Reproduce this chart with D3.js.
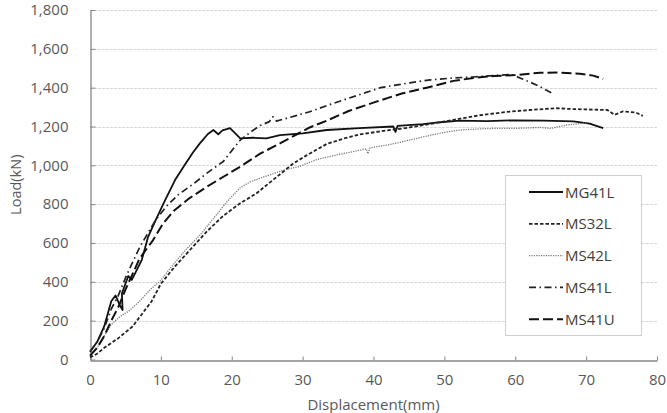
<!DOCTYPE html>
<html lang="en">
<head>
<meta charset="UTF-8">
<title>Load-displacement</title>
<script src="https://cdn.jsdelivr.net/npm/d3@7"></script>
<style>
  body { margin: 0; background: #fff; }
  text { font-family: "Open Sans", sans-serif; }
</style>
</head>
<body>
<script>

var w = 667;
var h = 413;
var margin = {top: 10, right: 10, bottom: 53.5, left: 90};

// [displacement mm, load kN]
var mg41l = [[0,40],[1,90],[2,170],[3,300],[3.6,330],[4.2,280],[4.6,255],[4.5,340],[5.4,430],[5.9,410],[7.3,512],[8.2,632],[9.3,720],[10.6,821],[12,924],[13.2,993],[14.5,1065],[15.5,1113],[16.6,1160],[17.4,1182],[18.1,1160],[18.7,1180],[19.75,1192],[20.5,1165],[21.2,1139],[23,1142],[24.9,1139],[26.8,1156],[30,1165],[33.4,1182],[38,1192],[42.8,1200],[43.1,1172],[43.4,1203],[47,1212],[49.4,1222],[52.2,1230],[56,1228],[60,1232],[64,1230],[68.2,1226],[70.5,1215],[72.4,1192]];
var ms32l = [[0,10],[1,30],[2,60],[4,110],[6,170],[8.7,300],[10,390],[12,480],[14.1,564],[16.5,660],[18.8,740],[21,800],[23.5,856],[26,930],[28.7,1010],[30.5,1050],[33.4,1110],[36,1140],[38.1,1160],[42,1180],[45.1,1195],[49.4,1222],[52.2,1240],[55,1258],[58.8,1275],[62,1285],[65.8,1294],[68,1290],[71,1287],[73,1285],[74,1260],[75.2,1278],[77,1272],[78,1255]];
var ms42l = [[0,20],[1,60],[2,120],[3,180],[4.2,220],[5.5,250],[7,300],[8.5,360],[9.9,405],[12,500],[13.5,565],[15.5,640],[17.5,730],[19.5,820],[21.2,885],[22.6,915],[24.5,940],[27.3,975],[29.6,995],[32,1030],[35,1055],[37,1070],[39,1085],[39.2,1060],[39.5,1090],[42,1105],[45.1,1130],[48,1155],[50,1170],[52.2,1182],[55,1188],[57,1190],[60,1190],[63.5,1195],[65,1190],[67.3,1208],[70,1218]];
var ms41l = [[0,40],[1,90],[2,160],[3,260],[4,330],[5,420],[6,500],[7.05,581],[8,640],[9.3,720],[10.8,790],[12.5,850],[14.6,905],[16.5,960],[18.8,1020],[20,1075],[21.2,1130],[22.6,1170],[24,1205],[25.3,1225],[25.8,1250],[26.3,1228],[27.7,1242],[31,1276],[34,1315],[38.1,1365],[41,1400],[45.1,1425],[48,1440],[51.3,1450],[54,1455],[57,1462],[59.5,1468],[61,1445],[63,1414],[65.4,1368]];
var ms41u = [[0,20],[1,60],[2,120],[3,200],[4,270],[5,360],[6,440],[7,520],[8.9,615],[10.3,700],[11.8,765],[14,830],[16.5,890],[19,945],[21.2,993],[24,1060],[26.8,1113],[28.7,1150],[31,1195],[33.4,1230],[36.5,1280],[40.4,1328],[44,1370],[47.5,1400],[51.3,1435],[54.1,1450],[57,1460],[60,1465],[63.5,1477],[66,1478],[69.1,1472],[71,1462],[72.4,1445]];

var seriesNames = ["MG41L", "MS32L", "MS42L", "MS41L", "MS41U"];
var seriesData = [mg41l, ms32l, ms42l, ms41l, ms41u];
var seriesDash = ["none", "3.5,2", "1.2,1.2", "7,3.5,1.5,3.5", "10,4"];
var seriesColor = ["#111", "#222", "#777", "#222", "#111"];
var seriesWidth = [1.8, 1.8, 1.3, 1.7, 2];

var xTicks = [0, 10, 20, 30, 40, 50, 60, 70, 80];
var yTicks = [0, 200, 400, 600, 800, 1000, 1200, 1400, 1600, 1800];

var svg = d3.select("body")
    .append("svg")
    .attr("width", w)
    .attr("height", h);

var x = d3.scaleLinear().domain([0, 80]).range([margin.left, w - margin.right]);
var y = d3.scaleLinear().domain([0, 1800]).range([h - margin.bottom, margin.top]);

// gridlines
svg.append("g")
    .selectAll("line")
    .data(yTicks.slice(1))
    .enter()
    .append("line")
    .attr("x1", x(0))
    .attr("x2", x(80))
    .attr("y1", function(d) { return Math.round(y(d)) + 0.5; })
    .attr("y2", function(d) { return Math.round(y(d)) + 0.5; })
    .attr("stroke", "#d8d8d8")
    .attr("stroke-dasharray", "3,1");

// axes
var xAxis = svg.append("g")
    .attr("transform", "translate(0," + (Math.round(y(0)) + 0.5) + ")")
    .call(d3.axisBottom(x).tickValues(xTicks).tickSizeInner(-4).tickSizeOuter(0).tickPadding(14));

var yAxis = svg.append("g")
    .attr("transform", "translate(" + (Math.round(x(0)) + 0.5) + ",0)")
    .call(d3.axisLeft(y).tickValues(yTicks).tickSizeInner(-5).tickSizeOuter(0).tickPadding(22)
        .tickFormat(d3.format(",")));

[xAxis, yAxis].forEach(function(a) {
    a.select(".domain").attr("stroke", "#868686").attr("stroke-width", 1.3);
    a.selectAll(".tick line").attr("stroke", "#868686");
    a.selectAll(".tick text")
        .attr("fill", "#595959")
        .style("font-size", "15px")
        .style("font-family", "'Open Sans', sans-serif");
});

// curves
var line = d3.line()
    .x(function(d) { return x(d[0]); })
    .y(function(d) { return y(d[1]); })
    .curve(d3.curveLinear);

svg.append("g")
    .selectAll("path")
    .data(seriesData)
    .enter()
    .append("path")
    .attr("d", line)
    .attr("fill", "none")
    .attr("stroke", function(d, i) { return seriesColor[i]; })
    .attr("stroke-width", function(d, i) { return seriesWidth[i]; })
    .attr("stroke-dasharray", function(d, i) { return seriesDash[i]; })
    .attr("stroke-linejoin", "round");

// axis titles
svg.append("text")
    .text("Displacement(mm)")
    .attr("x", (x(0) + x(80)) / 2)
    .attr("y", 410)
    .attr("text-anchor", "middle")
    .attr("fill", "#595959")
    .style("font-size", "15px");

svg.append("text")
    .text("Load(kN)")
    .attr("transform", "translate(21," + ((y(0) + y(1800)) / 2) + ") rotate(-90)")
    .attr("text-anchor", "middle")
    .attr("fill", "#595959")
    .style("font-size", "14.5px");

// legend
var legend = svg.append("g");
legend.append("rect")
    .attr("x", 505.5)
    .attr("y", 175.5)
    .attr("width", 136)
    .attr("height", 160)
    .attr("fill", "#fff")
    .attr("stroke", "#d0d0d0");

var items = legend.selectAll("g.item")
    .data(seriesNames)
    .enter()
    .append("g")
    .attr("class", "item")
    .attr("transform", function(d, i) { return "translate(0," + (192 + i * 31.8) + ")"; });

items.append("line")
    .attr("x1", 529)
    .attr("x2", 563)
    .attr("y1", 0)
    .attr("y2", 0)
    .attr("stroke", function(d, i) { return seriesColor[i]; })
    .attr("stroke-width", function(d, i) { return seriesWidth[i]; })
    .attr("stroke-dasharray", function(d, i) { return seriesDash[i]; });

items.append("text")
    .text(function(d) { return d; })
    .attr("x", 565)
    .attr("y", 5.5)
    .attr("fill", "#404040")
    .style("font-size", "15px");

</script>
</body>
</html>
